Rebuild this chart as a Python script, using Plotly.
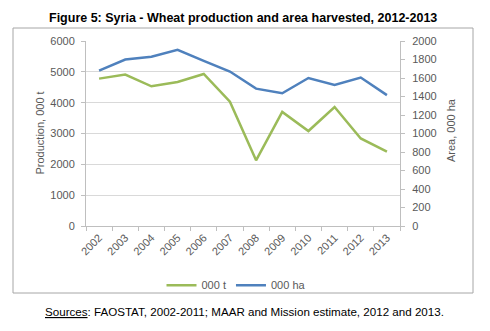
import plotly.graph_objects as go

years = ["2002", "2003", "2004", "2005", "2006", "2007",
         "2008", "2009", "2010", "2011", "2012", "2013"]
production_000t = [4780, 4910, 4530, 4670, 4930, 4030,
                   2130, 3700, 3080, 3860, 2840, 2410]
area_000ha = [1680, 1800, 1830, 1905, 1785, 1670,
              1485, 1435, 1600, 1525, 1605, 1415]

GREEN = "#9BBB59"
BLUE = "#4F81BD"
AXIS_GREY = "#BFBFBF"
TEXT_GREY = "#595959"
TICK_FONT = dict(family="Liberation Sans, Arial", size=11, color=TEXT_GREY)

fig = go.Figure()
fig.add_trace(go.Scatter(x=years, y=production_000t, name="000 t", mode="lines",
                         line=dict(color=GREEN, width=2.5), yaxis="y"))
fig.add_trace(go.Scatter(x=years, y=area_000ha, name="000 ha", mode="lines",
                         line=dict(color=BLUE, width=2.5), yaxis="y2"))

fig.update_layout(
    width=490, height=331,
    margin=dict(l=86, r=90, t=41, b=105),
    paper_bgcolor="white", plot_bgcolor="white",
    showlegend=True,
    legend=dict(orientation="h", x=(236 - 86) / 314, y=-0.32, xanchor="center", yanchor="middle",
                font=dict(family="Liberation Sans, Arial", size=11, color=TEXT_GREY),
                itemwidth=30, tracegroupgap=0, bgcolor="rgba(0,0,0,0)"),
    xaxis=dict(type="category", tickangle=-45, tickfont=TICK_FONT,
               showline=True, linecolor=AXIS_GREY, linewidth=1,
               ticks="outside", tickson="boundaries", ticklen=4, tickcolor=AXIS_GREY,
               showgrid=False, range=[-0.5, 11.5]),
    yaxis=dict(range=[0, 6000], dtick=1000, tickfont=TICK_FONT,
               showline=True, linecolor=AXIS_GREY, linewidth=1,
               ticks="outside", ticklen=4, tickcolor=AXIS_GREY, ticklabelstandoff=4,
               showgrid=True, gridcolor="#D9D9D9", gridwidth=1, zeroline=False),
    yaxis2=dict(range=[0, 2000], dtick=200, tickfont=TICK_FONT, overlaying="y", side="right",
                showline=True, linecolor=AXIS_GREY, linewidth=1,
                ticks="outside", ticklen=4, tickcolor=AXIS_GREY, ticklabelstandoff=5,
                showgrid=False, zeroline=False),
)

# Axis titles
fig.add_annotation(text="Production, 000 t", textangle=-90, xref="paper", yref="paper",
                   x=(39 - 86) / 314, y=0.5, xanchor="center", yanchor="middle", showarrow=False,
                   font=dict(family="Liberation Sans, Arial", size=11, color=TEXT_GREY))
fig.add_annotation(text="Area, 000 ha", textangle=-90, xref="paper", yref="paper",
                   x=(451 - 86) / 314, y=(226 - 130) / 185, xanchor="center", yanchor="middle",
                   showarrow=False,
                   font=dict(family="Liberation Sans, Arial", size=11, color=TEXT_GREY))

# Title above the chart box
fig.add_annotation(text="<b>Figure 5: Syria - Wheat production and area harvested, 2012-2013</b>",
                   xref="paper", yref="paper", x=(243 - 86) / 314, y=(226 - 18) / 185,
                   showarrow=False, xanchor="center", yanchor="middle",
                   font=dict(family="Liberation Sans, Arial", size=12.5, color="black"))

# Source note under the chart box
fig.add_annotation(text="<u>Sources</u>: FAOSTAT, 2002-2011; MAAR and Mission estimate, 2012 and 2013.",
                   xref="paper", yref="paper", x=(244 - 86) / 314, y=(226 - 311) / 185,
                   showarrow=False, xanchor="center", yanchor="middle",
                   font=dict(family="Liberation Sans, Arial", size=11.6, color="black"))

# Chart frame
fig.add_shape(type="rect", xref="paper", yref="paper",
              x0=(13 - 86) / 314, x1=(473 - 86) / 314,
              y0=(226 - 293) / 185, y1=(226 - 28) / 185,
              line=dict(color="#A6A6A6", width=1), fillcolor="rgba(0,0,0,0)", layer="below")

fig.write_html("out.html")
